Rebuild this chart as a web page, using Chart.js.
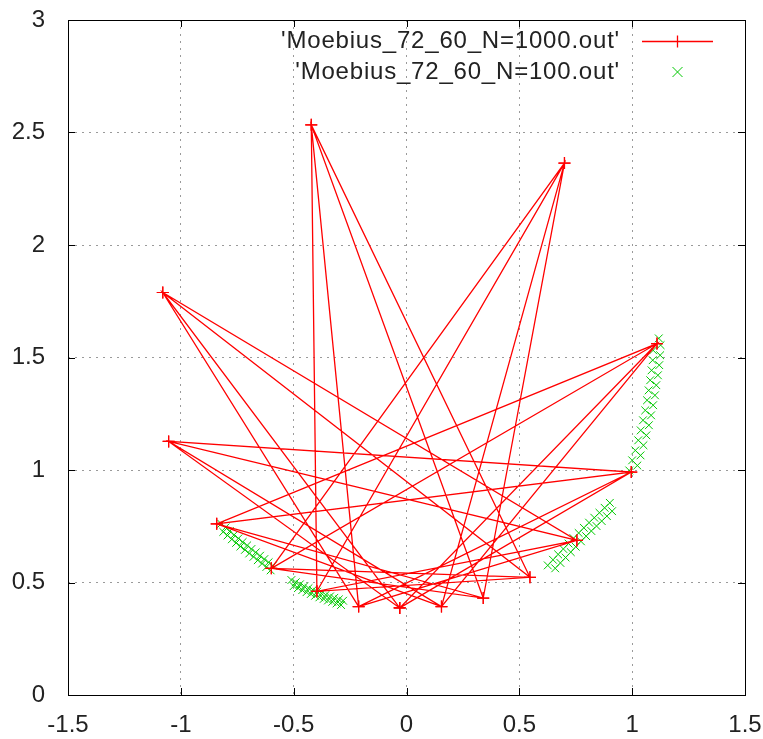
<!DOCTYPE html>
<html>
<head>
<meta charset="utf-8">
<title>Moebius_72_60</title>
<script src="https://cdn.jsdelivr.net/npm/chart.js@4.4.1/dist/chart.umd.min.js"></script>
<style>
    html, body { margin: 0; padding: 0; background: #fff; }
    #plot { display: block; }
</style>
</head>
<body>
<canvas id="plot" width="763" height="739"></canvas>
<script>
// Axis ticks
const xTicks = [-1.5, -1, -0.5, 0, 0.5, 1, 1.5];
const xTickLabels = ['-1.5', '-1', '-0.5', '0', '0.5', '1', '1.5'];
const yTicks = [0, 0.5, 1, 1.5, 2, 2.5, 3];
const yTickLabels = ['0', '0.5', '1', '1.5', '2', '2.5', '3'];

// Series names (gnuplot keys)
const seriesNames = ["'Moebius_72_60_N=1000.out'", "'Moebius_72_60_N=100.out'"];

// N=1000 : path through the star vertices
const redX = [-0.030, 0.996, -0.841, 0.155, 0.700, -0.599, 0.547, -0.422, -0.212, 0.755,
    -1.054, -0.030, 1.110, -0.841, 0.340, 0.700, -0.397, 0.547, -1.080, -0.212,
    0.996, -1.054, 0.155, 1.110, -0.599, 0.340, -0.422, -0.397, 0.755, -1.080, -0.030];
const redY = [0.387, 0.991, 0.761, 0.393, 2.364, 0.563, 0.523, 2.534, 0.393, 0.687,
    1.127, 0.387, 1.562, 0.761, 0.431, 2.364, 0.461, 0.523, 1.789, 0.393,
    0.991, 1.127, 0.393, 1.562, 0.563, 0.431, 2.534, 0.461, 0.687, 1.789, 0.387];

// N=100 : four short arcs of points
const greenX = [
    // arc near -0.7
    -0.821, -0.802, -0.783, -0.764, -0.745, -0.726, -0.706, -0.687, -0.668, -0.649, -0.630, -0.611, -0.592,
    -0.812, -0.793, -0.774, -0.755, -0.736, -0.716, -0.697, -0.678, -0.659, -0.640, -0.621, -0.602,
    // arc near -0.4
    -0.510, -0.491, -0.472, -0.453, -0.434, -0.415, -0.396, -0.377, -0.358, -0.339, -0.320, -0.300, -0.281,
    -0.500, -0.481, -0.462, -0.443, -0.424, -0.405, -0.386, -0.367, -0.348, -0.329, -0.310, -0.290,
    // arc near 0.75
    0.626, 0.649, 0.672, 0.695, 0.718, 0.740, 0.763, 0.786, 0.809, 0.832, 0.855, 0.878, 0.901,
    0.659, 0.682, 0.705, 0.728, 0.750, 0.773, 0.796, 0.819, 0.842, 0.865, 0.888, 0.911,
    // arc near 1.05
    0.987, 1.000, 1.014, 1.027, 1.038, 1.048, 1.058, 1.066, 1.073, 1.080, 1.086, 1.091, 1.093,
    1.023, 1.037, 1.050, 1.063, 1.074, 1.084, 1.093, 1.101, 1.107, 1.114, 1.120, 1.124, 1.126, 1.118
];
const greenY = [
    0.761, 0.745, 0.728, 0.712, 0.696, 0.680, 0.665, 0.649, 0.634, 0.619, 0.604, 0.590, 0.575,
    0.725, 0.709, 0.692, 0.676, 0.660, 0.645, 0.629, 0.614, 0.599, 0.584, 0.569, 0.554,
    0.511, 0.501, 0.492, 0.483, 0.475, 0.467, 0.459, 0.452, 0.445, 0.438, 0.432, 0.425, 0.419,
    0.484, 0.475, 0.466, 0.457, 0.449, 0.441, 0.434, 0.427, 0.420, 0.414, 0.407, 0.400,
    0.576, 0.601, 0.625, 0.649, 0.673, 0.697, 0.720, 0.743, 0.766, 0.788, 0.810, 0.832, 0.854,
    0.563, 0.587, 0.611, 0.635, 0.659, 0.683, 0.706, 0.729, 0.751, 0.773, 0.795, 0.817,
    0.998, 1.043, 1.087, 1.132, 1.176, 1.221, 1.265, 1.310, 1.354, 1.399, 1.443, 1.488, 1.532,
    1.020, 1.065, 1.110, 1.154, 1.199, 1.243, 1.288, 1.332, 1.377, 1.421, 1.466, 1.510, 1.555, 1.585
];

const RED = 'rgb(255, 0, 0)';
const GREEN = 'rgb(0, 200, 0)';
const FONT = '"Liberation Sans", Arial, sans-serif';

const toPoints = (xs, ys) => xs.map((x, i) => ({ x: x, y: ys[i] }));

// Frame, inward tick marks and gnuplot style key
const gnuplotDecor = {
    id: 'gnuplotDecor',
    afterDraw(chart) {
        const ctx = chart.ctx;
        const a = chart.chartArea;
        const xs = chart.scales.x;
        const ys = chart.scales.y;
        const tl = 7;
        ctx.save();
        ctx.strokeStyle = '#000';
        ctx.lineWidth = 1;
        ctx.setLineDash([]);
        ctx.beginPath();
        xTicks.forEach(v => {
            const px = Math.round(xs.getPixelForValue(v)) + 0.5;
            ctx.moveTo(px, a.bottom); ctx.lineTo(px, a.bottom - tl);
            ctx.moveTo(px, a.top); ctx.lineTo(px, a.top + tl);
        });
        yTicks.forEach(v => {
            const py = Math.round(ys.getPixelForValue(v)) + 0.5;
            ctx.moveTo(a.left, py); ctx.lineTo(a.left + tl, py);
            ctx.moveTo(a.right, py); ctx.lineTo(a.right - tl, py);
        });
        ctx.stroke();
        ctx.strokeRect(Math.round(a.left) + 0.5, Math.round(a.top) + 0.5,
            Math.round(a.right - a.left), Math.round(a.bottom - a.top));

        // key
        const textRight = a.right - 125;
        const sampleL = a.right - 103, sampleR = a.right - 32;
        const sampleC = (sampleL + sampleR) / 2;
        const row1 = a.top + 21.5, row2 = a.top + 52;
        ctx.font = '24px ' + FONT;
        ctx.letterSpacing = '0.8px';
        ctx.fillStyle = '#222';
        ctx.textAlign = 'right';
        ctx.textBaseline = 'middle';
        ctx.fillText(seriesNames[0], textRight, row1);
        ctx.fillText(seriesNames[1], textRight, row2);

        ctx.lineWidth = 1.3;
        ctx.strokeStyle = RED;
        ctx.beginPath();
        ctx.moveTo(sampleL, row1); ctx.lineTo(sampleR, row1);
        ctx.moveTo(sampleC, row1 - 6); ctx.lineTo(sampleC, row1 + 6);
        ctx.stroke();

        ctx.lineWidth = 1;
        ctx.strokeStyle = GREEN;
        ctx.beginPath();
        ctx.moveTo(sampleC - 5, row2 - 5); ctx.lineTo(sampleC + 5, row2 + 5);
        ctx.moveTo(sampleC - 5, row2 + 5); ctx.lineTo(sampleC + 5, row2 - 5);
        ctx.stroke();
        ctx.restore();
    }
};

Chart.defaults.font.family = FONT;
Chart.defaults.font.size = 24;
Chart.defaults.color = '#222';

const edgeColor = (ticks) => (ctx) => {
    const v = ctx.tick ? ctx.tick.value : null;
    return (v === ticks[0] || v === ticks[ticks.length - 1]) ? 'rgba(0,0,0,0)' : '#9a9a9a';
};

new Chart(document.getElementById('plot'), {
    type: 'scatter',
    data: {
        datasets: [
            {
                label: seriesNames[0],
                data: toPoints(redX, redY),
                showLine: true,
                borderColor: RED,
                backgroundColor: RED,
                borderWidth: 1.3,
                pointStyle: 'cross',
                pointRadius: 6,
                pointHoverRadius: 6,
                pointBorderColor: RED,
                pointBorderWidth: 1.2,
                tension: 0
            },
            {
                label: seriesNames[1],
                data: toPoints(greenX, greenY),
                showLine: false,
                borderColor: GREEN,
                backgroundColor: GREEN,
                borderWidth: 0,
                pointStyle: 'crossRot',
                pointRadius: 5.5,
                pointHoverRadius: 5.5,
                pointBorderColor: GREEN,
                pointBackgroundColor: GREEN,
                pointBorderWidth: 1
            }
        ]
    },
    options: {
        responsive: false,
        animation: false,
        devicePixelRatio: 1,
        layout: { padding: { top: 20, right: 18, left: 0, bottom: 0 } },
        plugins: {
            legend: { display: false },
            tooltip: { enabled: false }
        },
        scales: {
            x: {
                type: 'linear',
                min: -1.5,
                max: 1.5,
                afterBuildTicks: (scale) => { scale.ticks = xTicks.map(v => ({ value: v })); },
                afterFit: (scale) => {
                    scale.height = 44;
                    scale.paddingLeft = 0;
                    scale.paddingRight = 0;
                },
                ticks: {
                    padding: 16,
                    maxRotation: 0,
                    autoSkip: false,
                    callback: (v) => xTickLabels[xTicks.indexOf(v)]
                },
                grid: { color: edgeColor(xTicks), lineWidth: 1, drawTicks: false },
                border: { display: false, dash: [2, 5] }
            },
            y: {
                type: 'linear',
                min: 0,
                max: 3,
                afterBuildTicks: (scale) => { scale.ticks = yTicks.map(v => ({ value: v })); },
                afterFit: (scale) => {
                    scale.width = 68;
                    scale.paddingTop = 0;
                    scale.paddingBottom = 0;
                },
                ticks: {
                    padding: 23,
                    autoSkip: false,
                    callback: (v) => yTickLabels[yTicks.indexOf(v)]
                },
                grid: { color: edgeColor(yTicks), lineWidth: 1, drawTicks: false },
                border: { display: false, dash: [2, 5] }
            }
        }
    },
    plugins: [gnuplotDecor]
});
</script>
</body>
</html>
